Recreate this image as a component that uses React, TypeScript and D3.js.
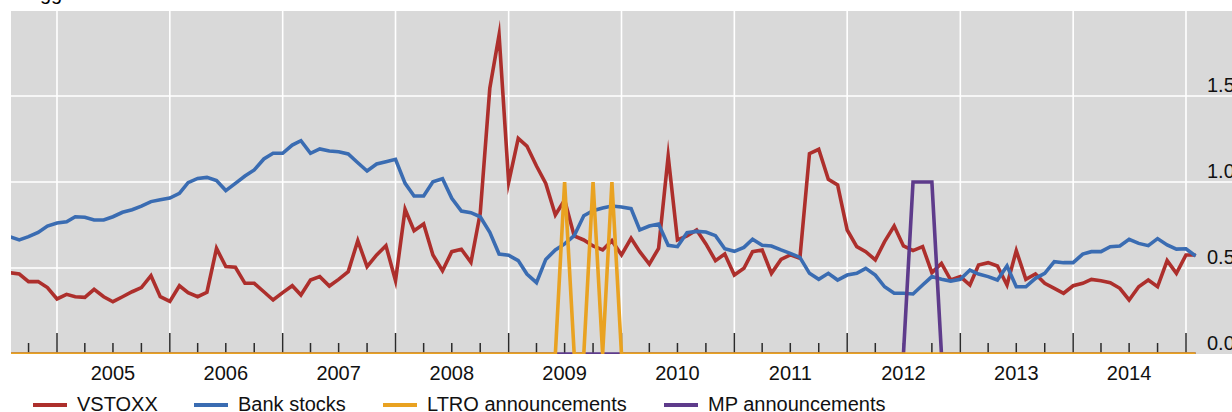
import React from "react";
import * as d3 from "d3";

const START = new Date(2004, 7, 1);
const END = new Date(2015, 2, 1);
const YEARS = [2005, 2006, 2007, 2008, 2009, 2010, 2011, 2012, 2013, 2014];
const Y_TICKS = [0.0, 0.5, 1.0, 1.5];
const Y_LABELS = ["0.0", "0.5", "1.0", "1.5"];

const VSTOXX = [
  0.473, 0.465, 0.421, 0.421, 0.386, 0.320, 0.347, 0.333, 0.329, 0.376,
  0.333, 0.304, 0.333, 0.362, 0.386, 0.455, 0.333, 0.306, 0.397, 0.357,
  0.333, 0.359, 0.614, 0.508, 0.504, 0.411, 0.411, 0.362, 0.314, 0.357,
  0.397, 0.343, 0.430, 0.450, 0.395, 0.434, 0.479, 0.659, 0.508, 0.576,
  0.630, 0.426, 0.841, 0.717, 0.756, 0.576, 0.484, 0.595, 0.609, 0.533,
  0.818, 1.545, 1.855, 0.998, 1.254, 1.209, 1.093, 0.992, 0.808, 0.895,
  0.686, 0.663, 0.628, 0.605, 0.659, 0.576, 0.673, 0.595, 0.523, 0.614,
  1.151, 0.663, 0.686, 0.721, 0.640, 0.543, 0.581, 0.459, 0.498, 0.595,
  0.605, 0.469, 0.550, 0.576, 0.556, 1.165, 1.190, 1.016, 0.983, 0.721,
  0.624, 0.595, 0.547, 0.653, 0.744, 0.628, 0.601, 0.624, 0.473, 0.527,
  0.430, 0.450, 0.401, 0.517, 0.531, 0.512, 0.401, 0.601, 0.434, 0.465,
  0.411, 0.382, 0.353, 0.397, 0.411, 0.434, 0.426, 0.415, 0.382, 0.314,
  0.391, 0.430, 0.391, 0.543, 0.469, 0.576, 0.576,
];

const BANK = [
  0.682, 0.663, 0.682, 0.707, 0.744, 0.762, 0.769, 0.798, 0.795, 0.779,
  0.779, 0.798, 0.824, 0.839, 0.860, 0.886, 0.897, 0.907, 0.934, 0.996,
  1.021, 1.027, 1.008, 0.950, 0.992, 1.035, 1.070, 1.134, 1.167, 1.167,
  1.215, 1.240, 1.167, 1.192, 1.180, 1.176, 1.163, 1.112, 1.064, 1.105,
  1.118, 1.132, 0.992, 0.919, 0.919, 1.002, 1.019, 0.905, 0.831, 0.822,
  0.798, 0.707, 0.581, 0.574, 0.543, 0.465, 0.415, 0.550, 0.605, 0.640,
  0.688, 0.804, 0.833, 0.849, 0.860, 0.855, 0.845, 0.721, 0.744, 0.756,
  0.632, 0.624, 0.705, 0.713, 0.709, 0.688, 0.612, 0.597, 0.620, 0.667,
  0.632, 0.628, 0.605, 0.585, 0.562, 0.469, 0.434, 0.469, 0.430, 0.459,
  0.469, 0.498, 0.459, 0.391, 0.353, 0.353, 0.349, 0.401, 0.450, 0.434,
  0.424, 0.434, 0.488, 0.465, 0.450, 0.430, 0.512, 0.391, 0.391, 0.440,
  0.469, 0.537, 0.531, 0.531, 0.581, 0.595, 0.595, 0.624, 0.628, 0.667,
  0.643, 0.630, 0.671, 0.634, 0.610, 0.612, 0.570,
];

const LTRO = [
  0, 0, 0, 0, 0, 0, 0, 0, 0, 0,
  0, 0, 0, 0, 0, 0, 0, 0, 0, 0,
  0, 0, 0, 0, 0, 0, 0, 0, 0, 0,
  0, 0, 0, 0, 0, 0, 0, 0, 0, 0,
  0, 0, 0, 0, 0, 0, 0, 0, 0, 0,
  0, 0, 0, 0, 0, 0, 0, 0, 0, 1,
  0, 0, 1, 0, 1, 0, 0, 0, 0, 0,
  0, 0, 0, 0, 0, 0, 0, 0, 0, 0,
  0, 0, 0, 0, 0, 0, 0, 0, 0, 0,
  0, 0, 0, 0, 0, 0, 0, 0, 0, 0,
  0, 0, 0, 0, 0, 0, 0, 0, 0, 0,
  0, 0, 0, 0, 0, 0, 0, 0, 0, 0,
  0, 0, 0, 0, 0, 0, 0,
];

const MP = [
  0, 0, 0, 0, 0, 0, 0, 0, 0, 0,
  0, 0, 0, 0, 0, 0, 0, 0, 0, 0,
  0, 0, 0, 0, 0, 0, 0, 0, 0, 0,
  0, 0, 0, 0, 0, 0, 0, 0, 0, 0,
  0, 0, 0, 0, 0, 0, 0, 0, 0, 0,
  0, 0, 0, 0, 0, 0, 0, 0, 0, 0,
  0, 0, 0, 0, 0, 0, 0, 0, 0, 0,
  0, 0, 0, 0, 0, 0, 0, 0, 0, 0,
  0, 0, 0, 0, 0, 0, 0, 0, 0, 0,
  0, 0, 0, 0, 0, 0, 1, 1, 1, 0,
  0, 0, 0, 0, 0, 0, 0, 0, 0, 0,
  0, 0, 0, 0, 0, 0, 0, 0, 0, 0,
  0, 0, 0, 0, 0, 0, 0,
];

const SERIES = [
  { name: "VSTOXX", values: VSTOXX, color: "#ad2f2c" },
  { name: "Bank stocks", values: BANK, color: "#3a6cb2" },
  { name: "MP announcements", values: MP, color: "#5e3b8b" },
  { name: "LTRO announcements", values: LTRO, color: "#e9a221" },
];
const LEGEND = ["VSTOXX", "Bank stocks", "LTRO announcements", "MP announcements"];

const W = 1232;
const H = 412;
const FONT = "'Liberation Sans', Arial, Helvetica, sans-serif";
const FS = 20;

export default function App() {
  const dates = d3.timeMonth.range(START, END);
  const x = d3
    .scaleTime()
    .domain([new Date(2005, 0, 1), new Date(2015, 0, 1)])
    .range([57, 1186]);
  const y = d3.scaleLinear().domain([0, 2]).range([354, 10]);

  const plotLeft = 11;
  const plotTop = 11;
  const plotBottom = y(0);

  const line = (vals: number[]) =>
    d3
      .line<number>()
      .x((_, i) => x(dates[i]))
      .y((v) => y(v))(vals) || "";

  const quarterTicks = d3.timeMonth
    .every(3)!
    .range(new Date(2004, 9, 1), new Date(2015, 0, 2));
  const yearLines = d3.timeYear.range(new Date(2005, 0, 1), new Date(2015, 0, 2));

  const legendPos = [
    { x0: 33, tx: 77 },
    { x0: 194, tx: 238 },
    { x0: 383, tx: 427 },
    { x0: 664, tx: 708 },
  ];

  return (
    <svg
      width={W}
      height={H}
      style={{ position: "absolute", left: 0, top: 0, fontFamily: FONT }}
    >
      <defs>
        <clipPath id="plotclip">
          <rect x={plotLeft} y={plotTop} width={W - plotLeft} height={plotBottom - plotTop} />
        </clipPath>
      </defs>
      <rect x={0} y={0} width={W} height={H} fill="#ffffff" />
      <text x={40} y={0} fontSize={FS} fill="#000">gg</text>
      <rect
        x={plotLeft}
        y={plotTop}
        width={W - plotLeft}
        height={plotBottom - plotTop}
        fill="#d9d9d9"
      />
      {Y_TICKS.filter((v) => v > 0).map((v) => (
        <line
          key={"h" + v}
          x1={plotLeft}
          x2={W}
          y1={y(v)}
          y2={y(v)}
          stroke="#ffffff"
          strokeWidth={1.6}
        />
      ))}
      {yearLines.map((d, i) => (
        <line
          key={"v" + i}
          x1={x(d)}
          x2={x(d)}
          y1={plotTop}
          y2={plotBottom}
          stroke="#ffffff"
          strokeWidth={1.6}
        />
      ))}
      {quarterTicks.map((d, i) => {
        const isYear = d.getMonth() === 0;
        return (
          <line
            key={"t" + i}
            x1={x(d)}
            x2={x(d)}
            y1={plotBottom - (isYear ? 21 : 11)}
            y2={plotBottom}
            stroke="#2b2b2b"
            strokeWidth={1.5}
          />
        );
      })}
      <g clipPath="url(#plotclip)">
        {SERIES.map((s) => (
          <path
            key={s.name}
            d={line(s.values)}
            fill="none"
            stroke={s.color}
            strokeWidth={3.6}
            strokeLinejoin="miter"
            strokeMiterlimit={10}
          />
        ))}
      </g>
      {Y_TICKS.map((v, i) => (
        <text
          key={"yl" + v}
          x={1207}
          y={y(v) - 4.5}
          fontSize={FS}
          fill="#111"
        >
          {Y_LABELS[i]}
        </text>
      ))}
      {YEARS.map((yr) => (
        <text
          key={"yr" + yr}
          x={x(new Date(yr, 6, 1))}
          y={380}
          fontSize={FS}
          textAnchor="middle"
          fill="#111"
        >
          {yr}
        </text>
      ))}
      {LEGEND.map((name, i) => {
        const s = SERIES.find((q) => q.name === name)!;
        const p = legendPos[i];
        return (
          <g key={"lg" + name}>
            <line
              x1={p.x0}
              x2={p.x0 + 34}
              y1={405}
              y2={405}
              stroke={s.color}
              strokeWidth={4}
            />
            <text x={p.tx} y={411} fontSize={FS} fill="#111">
              {name}
            </text>
          </g>
        );
      })}
    </svg>
  );
}
